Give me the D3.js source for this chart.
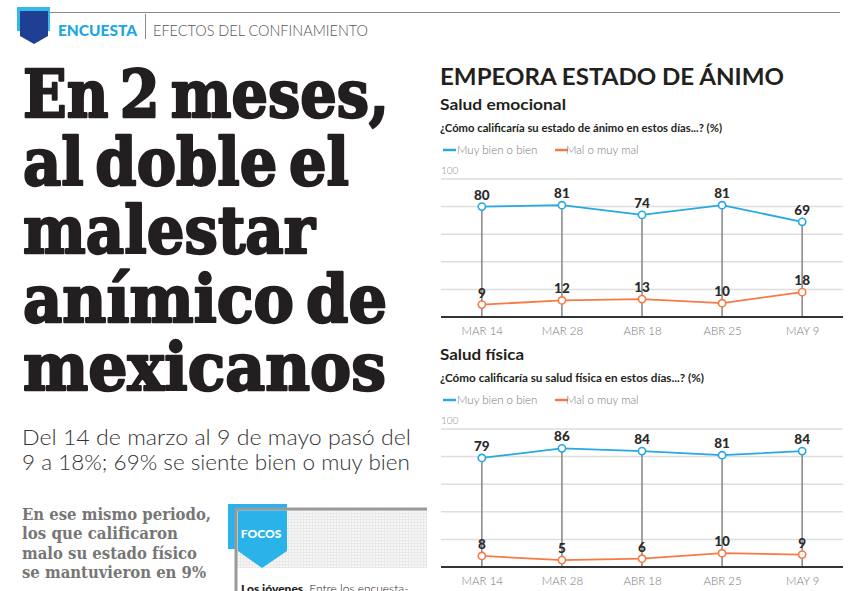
<!DOCTYPE html>
<html lang="es">
<head>
<meta charset="UTF-8">
<title>Empeora estado de ánimo</title>
<script src="https://d3js.org/d3.v7.min.js"></script>
<style>
  html, body { margin: 0; padding: 0; background: #fff; }
  svg { display: block; }
  .sans { font-family: Lato, "Open Sans", sans-serif; }
  .slab { font-family: "DejaVu Serif", serif; font-weight: bold; }
</style>
</head>
<body>
<svg id="page" width="863" height="591"></svg>
<script>
// data
const fechas = ["MAR 14", "MAR 28", "ABR 18", "ABR 25", "MAY 9"];
const emocionalBien = [80, 81, 74, 81, 69];
const emocionalMal = [9, 12, 13, 10, 18];
const fisicaBien = [79, 86, 84, 81, 84];
const fisicaMal = [8, 5, 6, 10, 9];
const gridTicks = [20, 40, 60, 80, 100];
const titular = ["En 2 meses,", "al doble el", "malestar", "anímico de", "mexicanos"];
const bajada = ["Del 14 de marzo al 9 de mayo pasó del", "9 a 18%; 69% se siente bien o muy bien"];
const nota = ["En ese mismo periodo,", "los que calificaron", "malo su estado físico", "se mantuvieron en 9%"];

const AZUL = "#27a8e0", NARANJA = "#f77a45";

var svg = d3.select("#page");

// stretch or squeeze a text to a given width
function fit(sel, w) {
  sel.attr("textLength", w).attr("lengthAdjust", "spacingAndGlyphs");
  return sel;
}

/** HEADER **/
svg.append("line").attr("x1", 48).attr("x2", 840).attr("y1", 12.5).attr("y2", 12.5)
  .attr("stroke", "#8a8a8a").attr("stroke-width", 1);
svg.append("rect").attr("x", 17).attr("y", 7).attr("width", 33).attr("height", 24).attr("fill", "#35b8ec");
svg.append("path").attr("d", "M20,11 H48 V36 L34,44 L20,36 Z").attr("fill", "#1f3f93");
fit(svg.append("text").attr("class", "sans").attr("x", 58).attr("y", 36)
  .attr("font-size", 15).attr("font-weight", 900).attr("fill", "#1ea6e0").text("ENCUESTA"), 79);
svg.append("line").attr("x1", 145.5).attr("x2", 145.5).attr("y1", 14).attr("y2", 39)
  .attr("stroke", "#888").attr("stroke-width", 1);
fit(svg.append("text").attr("class", "sans").attr("x", 153).attr("y", 36)
  .attr("font-size", 15).attr("font-weight", 300).attr("fill", "#555").text("EFECTOS DEL CONFINAMIENTO"), 215);

/** HEADLINE **/
const anchos = [368, 328, 294, 366, 365];
titular.forEach(function (t, i) {
  fit(svg.append("text").attr("class", "slab").attr("x", 23).attr("y", 117 + i * 68.2)
    .attr("font-size", 66).attr("word-spacing", -10).attr("fill", "#231f20")
    .attr("stroke", "#231f20").attr("stroke-width", 2.4).attr("stroke-linejoin", "round")
    .text(t), anchos[i] - 2);
});
bajada.forEach(function (t, i) {
  fit(svg.append("text").attr("class", "sans").attr("x", 22).attr("y", 445 + i * 25)
    .attr("font-size", 21).attr("font-weight", 300).attr("fill", "#333").text(t), i == 0 ? 389 : 388);
});
const notaAnchos = [189, 156, 175, 184];
nota.forEach(function (t, i) {
  fit(svg.append("text").attr("class", "slab").attr("x", 22).attr("y", 520 + i * 19.3)
    .attr("font-size", 16).attr("fill", "#767676").text(t), notaAnchos[i]);
});

/** FOCOS box **/
var defs = svg.append("defs");
var pat = defs.append("pattern").attr("id", "trama").attr("width", 3).attr("height", 3)
  .attr("patternUnits", "userSpaceOnUse");
pat.append("rect").attr("width", 3).attr("height", 3).attr("fill", "#f6f6f6");
pat.append("path").attr("d", "M0,0.5 H3 M0.5,0 V3").attr("stroke", "#e2e2e2").attr("stroke-width", 0.6);

svg.append("rect").attr("x", 228).attr("y", 504).attr("width", 59).attr("height", 45).attr("fill", "#29b3e8");
svg.append("rect").attr("x", 237).attr("y", 510).attr("width", 190).attr("height", 58).attr("fill", "url(#trama)");
svg.append("path").attr("d", "M236,591 V509 H427").attr("fill", "none").attr("stroke", "#9a9a9a").attr("stroke-width", 3);
svg.append("path").attr("d", "M238,510.5 H287 V551 L262,568 L238,551 Z").attr("fill", "#29b3e8");
svg.append("text").attr("class", "sans").attr("x", 261).attr("y", 538).attr("text-anchor", "middle")
  .attr("font-size", 12).attr("font-weight", 900).attr("fill", "#fff").text("FOCOS");
var foco = svg.append("text").attr("class", "sans").attr("x", 241).attr("y", 593)
  .attr("font-size", 12).attr("fill", "#222");
foco.append("tspan").attr("font-weight", 900).text("Los jóvenes.");
foco.append("tspan").attr("font-weight", 300).text(" Entre los encuesta-");

/** RIGHT COLUMN **/
fit(svg.append("text").attr("class", "sans").attr("x", 440).attr("y", 85)
  .attr("font-size", 23).attr("font-weight", 700).attr("fill", "#231f20").text("EMPEORA ESTADO DE ÁNIMO"), 344);

var x = d3.scalePoint().domain(fechas).range([441, 843]).padding(0.51);

function panel(top, titulo, pregunta, wTitulo, wPregunta, bien, mal) {
  var g = svg.append("g");
  fit(g.append("text").attr("class", "sans").attr("x", 440).attr("y", top)
    .attr("font-size", 16).attr("font-weight", 700).attr("fill", "#231f20").text(titulo), wTitulo);
  fit(g.append("text").attr("class", "sans").attr("x", 440).attr("y", top + 22)
    .attr("font-size", 10.5).attr("font-weight", 700).attr("fill", "#231f20").text(pregunta), wPregunta);

  // legend
  var ly = top + 40;
  [["Muy bien o bien", AZUL, 443, 457], ["Mal o muy mal", NARANJA, 555, 566]].forEach(function (l) {
    g.append("line").attr("x1", l[2]).attr("x2", l[2] + 13).attr("y1", ly).attr("y2", ly)
      .attr("stroke", l[1]).attr("stroke-width", 2.5);
    g.append("text").attr("class", "sans").attr("x", l[3]).attr("y", ly + 4)
      .attr("font-size", 11.5).attr("font-weight", 300).attr("fill", "#777").text(l[0]);
  });

  var y = d3.scaleLinear().domain([0, 100]).range([top + 207, top + 69]);

  g.append("text").attr("class", "sans").attr("x", 441).attr("y", y(100) - 5)
    .attr("font-size", 10).attr("font-weight", 300).attr("fill", "#888").text("100");

  // gridlines
  g.append("g").selectAll("line").data(gridTicks).enter().append("line")
    .attr("x1", 441).attr("x2", 843)
    .attr("y1", function (d) { return y(d); }).attr("y2", function (d) { return y(d); })
    .attr("stroke", "#dedede").attr("stroke-width", 1.5);

  // x axis labels
  var ax = g.append("g").attr("transform", "translate(0," + y(0) + ")")
    .call(d3.axisBottom(x).tickSize(0).tickPadding(10));
  ax.select(".domain").remove();
  ax.selectAll("text").attr("class", "sans").attr("font-size", 11.5).attr("font-weight", 300)
    .attr("fill", "#777");

  // drop lines
  g.append("g").selectAll("line").data(bien).enter().append("line")
    .attr("x1", function (d, i) { return x(fechas[i]); })
    .attr("x2", function (d, i) { return x(fechas[i]); })
    .attr("y1", function (d) { return y(d); }).attr("y2", y(0))
    .attr("stroke", "#858585").attr("stroke-width", 1.5);

  g.append("line").attr("x1", 441).attr("x2", 843).attr("y1", y(0)).attr("y2", y(0))
    .attr("stroke", "#333").attr("stroke-width", 2);

  [[bien, AZUL], [mal, NARANJA]].forEach(function (s) {
    var line = d3.line().x(function (d, i) { return x(fechas[i]); }).y(function (d) { return y(d); });
    g.append("path").datum(s[0]).attr("d", line).attr("fill", "none")
      .attr("stroke", s[1]).attr("stroke-width", 1.8);
    g.append("g").selectAll("circle").data(s[0]).enter().append("circle")
      .attr("cx", function (d, i) { return x(fechas[i]); }).attr("cy", function (d) { return y(d); })
      .attr("r", 3.6).attr("fill", "#fff").attr("stroke", s[1]).attr("stroke-width", 1.6);
    g.append("g").selectAll("text").data(s[0]).enter().append("text")
      .attr("class", "sans").attr("text-anchor", "middle")
      .attr("x", function (d, i) { return x(fechas[i]); }).attr("y", function (d) { return y(d) - 7; })
      .attr("font-size", 13.5).attr("font-weight", 900).attr("fill", "#2a2a2a").text(function (d) { return d; });
  });
}

panel(110, "Salud emocional", "¿Cómo calificaría su estado de ánimo en estos días...?  (%)", 126, 282,
  emocionalBien, emocionalMal);
panel(360, "Salud física", "¿Cómo calificaría su salud física en estos días...?   (%)", 84, 264,
  fisicaBien, fisicaMal);
</script>
</body>
</html>
